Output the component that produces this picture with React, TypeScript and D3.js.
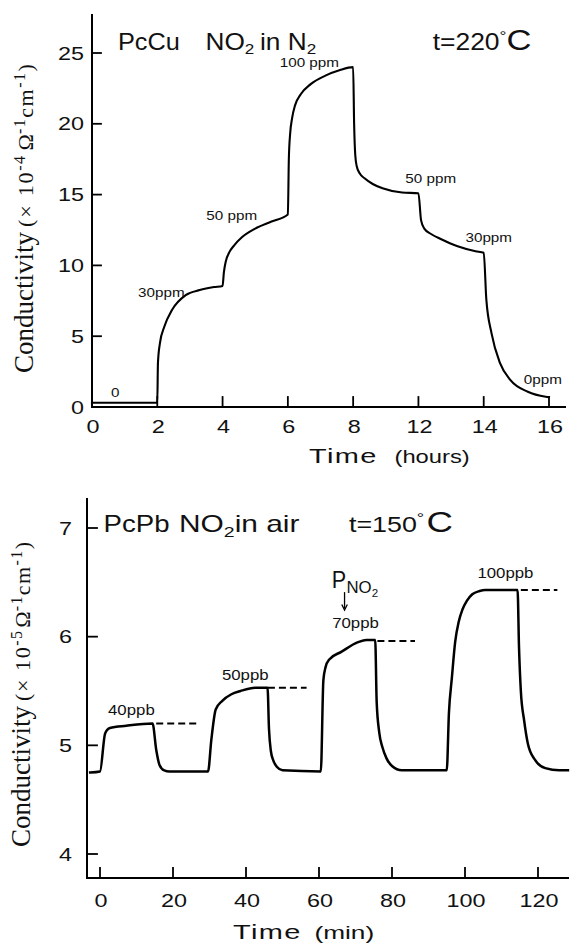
import React from "react";
import * as d3 from "d3";

// ---- Upper panel: PcCu, NO2 in N2, t = 220 °C (time in hours, conductivity ×10^-4) ----
const CU_TIME_TICKS = [0, 2, 4, 6, 8, 12, 14, 16];
const CU_COND_TICKS = [0, 5, 10, 15, 20, 25];
const CU_RESPONSE: [number, number][] = [
  [0, 0.3], [2.0, 0.3],
  [2.02, 3.1], [2.08, 4.5], [2.22, 5.7], [2.45, 6.85], [2.87, 7.9], [3.3, 8.26], [3.74, 8.47], [4.0, 8.55],
  [4.04, 9.5], [4.1, 10.3], [4.2, 10.9], [4.35, 11.4], [4.6, 12.0], [5.0, 12.6], [5.5, 13.1], [6.0, 13.6],
  [6.03, 17.5], [6.07, 19.3], [6.13, 20.4], [6.22, 21.3], [6.4, 22.1], [6.7, 22.8], [7.15, 23.4], [7.6, 23.8], [8.0, 24.0],
  [8.06, 20.0], [8.13, 17.8], [8.22, 17.0], [8.4, 16.5], [8.7, 16.15], [9.2, 15.75], [9.8, 15.45], [11.0, 15.15], [12.0, 15.1],
  [12.08, 13.2], [12.18, 12.6], [12.4, 12.2], [12.7, 11.85], [13.2, 11.35], [13.75, 11.0], [14.0, 10.9],
  [14.08, 7.6], [14.24, 5.2], [14.5, 3.1], [14.82, 1.9], [15.35, 1.08], [15.9, 0.73], [16.0, 0.7],
];
const CU_STEP_LABELS = ["0", "30ppm", "50 ppm", "100 ppm", "50 ppm", "30ppm", "0ppm"];
const CU_STEP_AT: [number, number][] = [
  [0.58, 0.7], [1.41, 7.77], [3.5, 13.2], [5.75, 24.0], [11.2, 15.8], [13.44, 11.65], [15.23, 1.62],
];

// ---- Lower panel: PcPb, NO2 in air, t = 150 °C (time in minutes, conductivity ×10^-5) ----
const PB_TIME_TICKS = [0, 20, 40, 60, 80, 100, 120];
const PB_COND_TICKS = [4, 5, 6, 7];
const PB_RESPONSE: [number, number][] = [
  [-2.7, 4.75], [0.0, 4.76], [1.4, 5.11], [2.7, 5.16], [7.2, 5.18], [14.4, 5.2],
  [15.4, 4.96], [16.3, 4.82], [17.6, 4.77], [19.0, 4.76], [29.6, 4.76],
  [30.5, 5.05], [31.7, 5.33], [33.5, 5.41], [36.0, 5.47], [38.5, 5.5], [42.5, 5.53], [45.9, 5.53],
  [46.3, 5.15], [46.8, 4.95], [47.5, 4.86], [48.5, 4.8], [50.0, 4.77], [60.5, 4.76],
  [61.2, 5.6], [61.8, 5.72], [62.8, 5.79], [66.1, 5.86], [70.7, 5.95], [73.0, 5.97], [75.4, 5.97],
  [75.8, 5.4], [76.5, 5.12], [77.4, 4.98], [78.5, 4.88], [80.0, 4.81], [82.7, 4.77], [95.0, 4.77],
  [95.6, 5.3], [96.4, 5.62], [97.3, 5.95], [98.3, 6.14], [99.3, 6.25], [100.5, 6.33], [102.0, 6.39], [104.0, 6.42], [105.5, 6.43], [114.4, 6.43],
  [114.8, 5.9], [115.3, 5.5], [116.2, 5.23], [117.2, 5.02], [119.1, 4.87], [122.0, 4.79], [125.8, 4.77], [128.2, 4.77],
];
const PB_DOSE_LABELS = ["40ppb", "50ppb", "70ppb", "100ppb"];
const PB_DOSE_AT: [number, number][] = [[2.2, 5.28], [33.4, 5.6], [63.6, 6.08], [103.4, 6.54]];
// extrapolated saturation levels (dashed)
const PB_SAT_FROM = [15.4, 46.0, 76.0, 115.3];
const PB_SAT_TO = [26.4, 56.6, 86.3, 125.3];
const PB_SAT_LEVEL = [5.2, 5.53, 5.96, 6.43];

const SANS = "'Liberation Sans', Arial, Helvetica, sans-serif";
const SERIF = "'Liberation Serif', 'Times New Roman', serif";
const INK = "#111";

type TxtProps = {
  x: number; y: number; sx?: number; size: number; anchor?: string; spacing?: number;
  family?: string; children: React.ReactNode;
};
const Txt = ({ x, y, sx = 1.25, size, anchor = "start", spacing, family = SANS, children }: TxtProps) => (
  <text transform={`translate(${x},${y}) scale(${sx},1)`} fontSize={size} textAnchor={anchor}
    letterSpacing={spacing} fontFamily={family} fill={INK}>{children}</text>
);

export default function App() {
  // upper panel scales (the time axis jumps from 8 h to 12 h in one tick interval)
  const xCu = d3.scaleLinear().domain(CU_TIME_TICKS)
    .range(CU_TIME_TICKS.map((_, i) => 92 + (i * (549 - 92)) / (CU_TIME_TICKS.length - 1)));
  const yCu = d3.scaleLinear().domain([0, 25]).range([407, 53]);
  // lower panel scales
  const xPb = d3.scaleLinear().domain([0, 120]).range([100, 538]);
  const yPb = d3.scaleLinear().domain([4, 7]).range([854, 528]);

  const cuLine = d3.line<[number, number]>().x(d => xCu(d[0])).y(d => yCu(d[1])).curve(d3.curveMonotoneX);
  const pbLine = d3.line<[number, number]>().x(d => xPb(d[0])).y(d => yPb(d[1])).curve(d3.curveMonotoneX);

  const cuX0 = xCu(0), cuY0 = yCu(0);
  const pbX0 = 87, pbY0 = 878;

  return (
    <svg width={570} height={944} style={{ position: "absolute", left: 0, top: 0, background: "#fff" }}>
      {/* ===== Upper panel ===== */}
      <g stroke="#000" fill="none" strokeLinecap="square">
        <line x1={cuX0} y1={cuY0} x2={cuX0} y2={15} strokeWidth={2} />
        <line x1={cuX0} y1={cuY0} x2={565} y2={cuY0} strokeWidth={2} />
        {CU_COND_TICKS.filter(v => v > 0).map(v => (
          <line key={v} x1={cuX0} x2={cuX0 + 9} y1={yCu(v)} y2={yCu(v)} strokeWidth={1.8} />
        ))}
        {CU_TIME_TICKS.filter(t => t > 0).map(t => (
          <line key={t} x1={xCu(t)} x2={xCu(t)} y1={cuY0} y2={cuY0 - 10} strokeWidth={1.8} />
        ))}
        <path d={cuLine(CU_RESPONSE) || ""} strokeWidth={2.1} strokeLinejoin="round" />
      </g>
      {CU_COND_TICKS.map(v => (
        <Txt key={v} x={84} y={yCu(v) + 6.5} size={18} sx={1.3} anchor="end">{v}</Txt>
      ))}
      {CU_TIME_TICKS.map(t => (
        <Txt key={t} x={xCu(t) + 1} y={433} size={18} sx={1.3} anchor="middle">{t}</Txt>
      ))}
      <Txt x={309} y={463} size={21} sx={1.38} spacing={1}>Time</Txt>
      <Txt x={394.5} y={463} size={19} sx={1.25}>(hours)</Txt>
      {CU_STEP_LABELS.map((s, i) => (
        <Txt key={i} x={xCu(CU_STEP_AT[i][0])} y={yCu(CU_STEP_AT[i][1])} size={12.5} sx={1.22}>{s}</Txt>
      ))}
      <Txt x={118} y={50} size={23} sx={1.1}>PcCu</Txt>
      <Txt x={205.5} y={50} size={23} sx={1.14}>
        <tspan>NO</tspan><tspan fontSize={15} dy={4}>2</tspan>
        <tspan dy={-4} dx={5}>in N</tspan><tspan fontSize={15} dy={4}>2</tspan>
      </Txt>
      <Txt x={432.7} y={50} size={23} sx={1.15}>
        <tspan>t=220</tspan><tspan fontSize={15} dy={-9}>°</tspan><tspan fontSize={30} dy={9}>C</tspan>
      </Txt>
      <text transform="translate(33,373) rotate(-90)" fontFamily={SERIF} fill={INK}>
        <tspan fontSize={27}>Conductivity</tspan>
        <tspan fontSize={22} dx={5} letterSpacing={1.8}>(× 10</tspan>
        <tspan fontSize={16} dy={-8} letterSpacing={1.5}>-4</tspan>
        <tspan fontSize={22} dy={8} dx={4}>Ω</tspan>
        <tspan fontSize={16} dy={-8} letterSpacing={1.5}>-1</tspan>
        <tspan fontSize={22} dy={8} letterSpacing={1.5}>cm</tspan>
        <tspan fontSize={16} dy={-8} letterSpacing={1.5}>-1</tspan>
        <tspan fontSize={22} dy={8}>)</tspan>
      </text>

      {/* ===== Lower panel ===== */}
      <g stroke="#000" fill="none" strokeLinecap="square">
        <line x1={pbX0} y1={pbY0} x2={pbX0} y2={499} strokeWidth={2} />
        <line x1={pbX0} y1={pbY0} x2={568} y2={pbY0} strokeWidth={2} />
        {PB_COND_TICKS.map(v => (
          <line key={v} x1={pbX0} x2={pbX0 + 10} y1={yPb(v)} y2={yPb(v)} strokeWidth={1.8} />
        ))}
        {PB_TIME_TICKS.map(t => (
          <line key={t} x1={xPb(t)} x2={xPb(t)} y1={pbY0} y2={pbY0 - 10} strokeWidth={1.8} />
        ))}
        {PB_SAT_LEVEL.map((v, i) => (
          <line key={i} x1={xPb(PB_SAT_FROM[i])} x2={xPb(PB_SAT_TO[i])} y1={yPb(v)} y2={yPb(v)}
            strokeWidth={2} strokeDasharray="7 4" strokeLinecap="butt" />
        ))}
        <path d={pbLine(PB_RESPONSE) || ""} strokeWidth={2.5} strokeLinejoin="round" />
        {/* arrow marking the NO2 partial pressure step */}
        <line x1={xPb(67)} x2={xPb(67)} y1={yPb(6.41)} y2={yPb(6.26)} strokeWidth={1.3} strokeLinecap="butt" />
        <path d={`M${xPb(67) - 2.5},${yPb(6.29)} L${xPb(67)},${yPb(6.245)} L${xPb(67) + 2.5},${yPb(6.29)}`}
          strokeWidth={1.3} />
      </g>
      {PB_COND_TICKS.map(v => (
        <Txt key={v} x={72} y={yPb(v) + 6.5} size={18} sx={1.3} anchor="end">{v}</Txt>
      ))}
      {PB_TIME_TICKS.map(t => (
        <Txt key={t} x={xPb(t) + 1} y={907} size={18} sx={1.3} anchor="middle">{t}</Txt>
      ))}
      <Txt x={233} y={939} size={21} sx={1.38} spacing={1}>Time</Txt>
      <Txt x={314.5} y={939} size={19} sx={1.38}>(min)</Txt>
      {PB_DOSE_LABELS.map((s, i) => (
        <Txt key={i} x={xPb(PB_DOSE_AT[i][0])} y={yPb(PB_DOSE_AT[i][1])} size={14} sx={1.2}>{s}</Txt>
      ))}
      <Txt x={331.7} y={588} size={24} sx={0.9}>P</Txt>
      <Txt x={346.5} y={593} size={16} sx={1.05}>
        <tspan>NO</tspan><tspan fontSize={11} dy={4}>2</tspan>
      </Txt>
      <Txt x={103.6} y={532} size={23} sx={1.2}>PcPb</Txt>
      <Txt x={179} y={532} size={23} sx={1.3}>
        <tspan>NO</tspan><tspan fontSize={15} dy={5}>2</tspan><tspan dy={-5}>in air</tspan>
      </Txt>
      <Txt x={349} y={532} size={22} sx={1.22}>
        <tspan>t=150</tspan><tspan fontSize={15} dy={-9}>°</tspan><tspan fontSize={30} dy={9} dx={2}>C</tspan>
      </Txt>
      <text transform="translate(30,847) rotate(-90)" fontFamily={SERIF} fill={INK}>
        <tspan fontSize={27}>Conductivity</tspan>
        <tspan fontSize={22} dx={5} letterSpacing={1.6}>(× 10</tspan>
        <tspan fontSize={16} dy={-8} letterSpacing={1.4}>-5</tspan>
        <tspan fontSize={22} dy={8} dx={2}>Ω</tspan>
        <tspan fontSize={16} dy={-8} letterSpacing={1.4}>-1</tspan>
        <tspan fontSize={22} dy={8} letterSpacing={1.4}>cm</tspan>
        <tspan fontSize={16} dy={-8} letterSpacing={1.4}>-1</tspan>
        <tspan fontSize={22} dy={8}>)</tspan>
      </text>
    </svg>
  );
}
